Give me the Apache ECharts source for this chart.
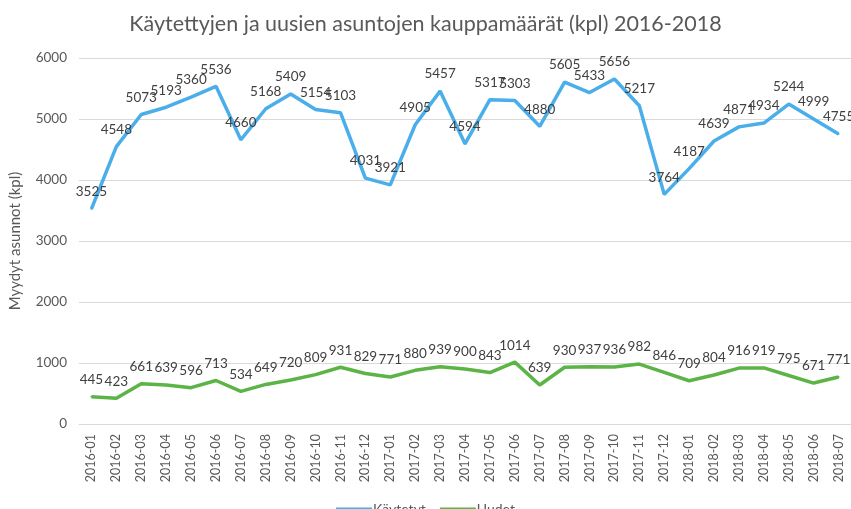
<!DOCTYPE html>
<html>
<head>
<meta charset="utf-8">
<script src="https://cdn.jsdelivr.net/npm/echarts@6/dist/echarts.min.js"></script>
<style>
  html, body { margin: 0; padding: 0; background: #fff; }
  #chart { width: 851px; height: 509px; }
</style>
</head>
<body>
<div id="chart"></div>
<script>
const months = [
  '2016-01', '2016-02', '2016-03', '2016-04', '2016-05', '2016-06', '2016-07', '2016-08',
  '2016-09', '2016-10', '2016-11', '2016-12', '2017-01', '2017-02', '2017-03', '2017-04',
  '2017-05', '2017-06', '2017-07', '2017-08', '2017-09', '2017-10', '2017-11', '2017-12',
  '2018-01', '2018-02', '2018-03', '2018-04', '2018-05', '2018-06', '2018-07'
];
const kaytetyt = [
  3525, 4548, 5073, 5193, 5360, 5536, 4660, 5168, 5409, 5154, 5103, 4031, 3921, 4905, 5457, 4594,
  5317, 5303, 4880, 5605, 5433, 5656, 5217, 3764, 4187, 4639, 4871, 4934, 5244, 4999, 4755
];
const uudet = [
  445, 423, 661, 639, 596, 713, 534, 649, 720, 809, 931, 829, 771, 880, 939, 900,
  843, 1014, 639, 930, 937, 936, 982, 846, 709, 804, 916, 919, 795, 671, 771
];
const yTicks = [0, 1000, 2000, 3000, 4000, 5000, 6000];

const FONT = 'Lato';

const chart = echarts.init(document.getElementById('chart'));

// labels in a line series hang on the symbols, so keep a tiny one
const seriesLine = (name, data, color) => ({
  name: name,
  type: 'line',
  data: data,
  symbol: 'circle',
  symbolSize: 2,
  showSymbol: true,
  lineStyle: { color: color, width: 3.5 },
  itemStyle: { color: color },
  label: {
    show: true,
    position: 'top',
    distance: 9,
    formatter: '{c}',
    fontFamily: FONT,
    fontSize: 13.5,
    color: '#404040'
  },
  labelLayout: { hideOverlap: false }
});

chart.setOption({
  animation: false,
  textStyle: { fontFamily: FONT },
  title: {
    text: 'Käytettyjen ja uusien asuntojen kauppamäärät (kpl) 2016-2018',
    left: 'center',
    top: 8,
    textStyle: { fontFamily: FONT, fontSize: 21.5, fontWeight: 'normal', color: '#595959' }
  },
  legend: {
    data: ['Käytetyt', 'Uudet'],
    top: 497,
    left: 'center',
    itemWidth: 36,
    itemHeight: 3,
    itemGap: 14,
    icon: 'rect',
    textStyle: { fontFamily: FONT, fontSize: 14, color: '#595959', padding: [0, 0, 0, -4] }
  },
  grid: { left: 72, right: 0, top: 58, bottom: 85 },
  xAxis: {
    type: 'category',
    data: months,
    boundaryGap: true,
    axisLine: { lineStyle: { color: '#d9d9d9' } },
    axisTick: { show: false },
    axisLabel: { rotate: 90, interval: 0, fontFamily: FONT, fontSize: 12.5, color: '#595959', margin: 10 }
  },
  yAxis: {
    type: 'value',
    min: yTicks[0],
    max: yTicks[yTicks.length - 1],
    interval: 1000,
    name: 'Myydyt asunnot (kpl)',
    nameLocation: 'middle',
    nameGap: 56,
    nameTextStyle: { fontFamily: FONT, fontSize: 15, color: '#595959' },
    axisLine: { show: false },
    axisTick: { show: false },
    splitLine: { lineStyle: { color: '#d9d9d9' } },
    axisLabel: { formatter: (v) => String(v), fontFamily: FONT, fontSize: 13.5, color: '#595959', margin: 12 }
  },
  series: [
    seriesLine('Käytetyt', kaytetyt, '#4aaeea'),
    seriesLine('Uudet', uudet, '#5cb447')
  ]
});
</script>
</body>
</html>
